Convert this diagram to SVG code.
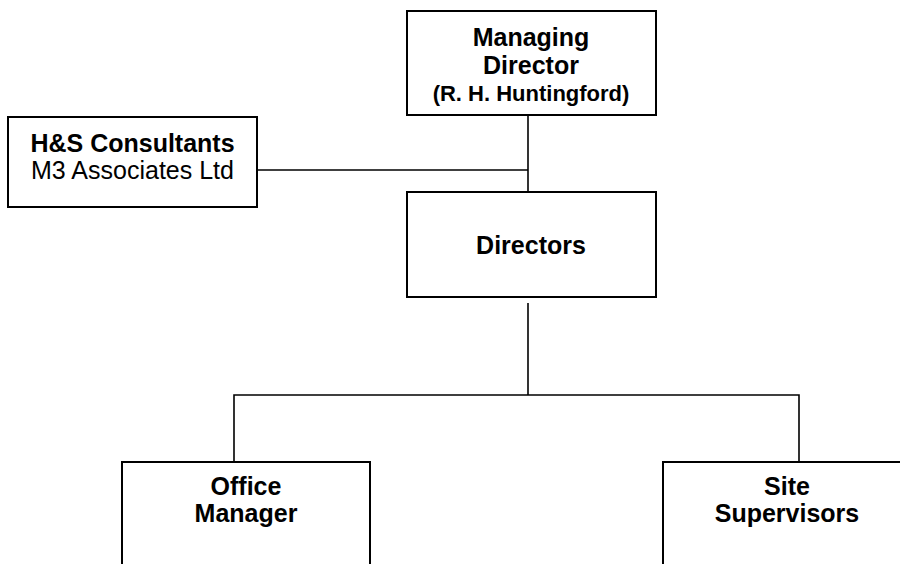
<svg xmlns="http://www.w3.org/2000/svg" width="900" height="564" viewBox="0 0 900 564">
<style>
.box{fill:#fff;stroke:#000;stroke-width:2}
.ln{fill:none;stroke:#000;stroke-width:1.6}
text{font-family:"Liberation Sans",Arial,sans-serif;font-size:25px;fill:#000;text-anchor:middle}
.b{font-weight:bold}
.s{font-size:22px}
</style>
<rect width="900" height="564" fill="#fff"/>
<g id="connectors">
<line class="ln" x1="528" y1="115" x2="528" y2="192"/>
<line class="ln" x1="257" y1="170" x2="528" y2="170"/>
<line class="ln" x1="528" y1="303" x2="528" y2="395"/>
<polyline class="ln" points="234,462 234,395 799,395 799,462"/>
</g>
<g id="managing-director">
<rect class="box" x="407" y="11" width="249" height="104"/>
<text class="b" x="531" y="46">Managing</text>
<text class="b" x="531" y="74">Director</text>
<text class="b s" x="531" y="101">(R. H. Huntingford)</text>
</g>
<g id="hs-consultants">
<rect class="box" x="8" y="117" width="249" height="90"/>
<text class="b" x="132.5" y="152">H&amp;S Consultants</text>
<text x="132.5" y="179">M3 Associates Ltd</text>
</g>
<g id="directors">
<rect class="box" x="407" y="192" width="249" height="105"/>
<text class="b" x="531" y="254">Directors</text>
</g>
<g id="office-manager">
<rect class="box" x="122" y="462" width="248" height="120"/>
<text class="b" x="246" y="495">Office</text>
<text class="b" x="246" y="522">Manager</text>
</g>
<g id="site-supervisors">
<rect class="box" x="663" y="462" width="248" height="120"/>
<text class="b" x="787" y="495">Site</text>
<text class="b" x="787" y="522">Supervisors</text>
</g>
</svg>
